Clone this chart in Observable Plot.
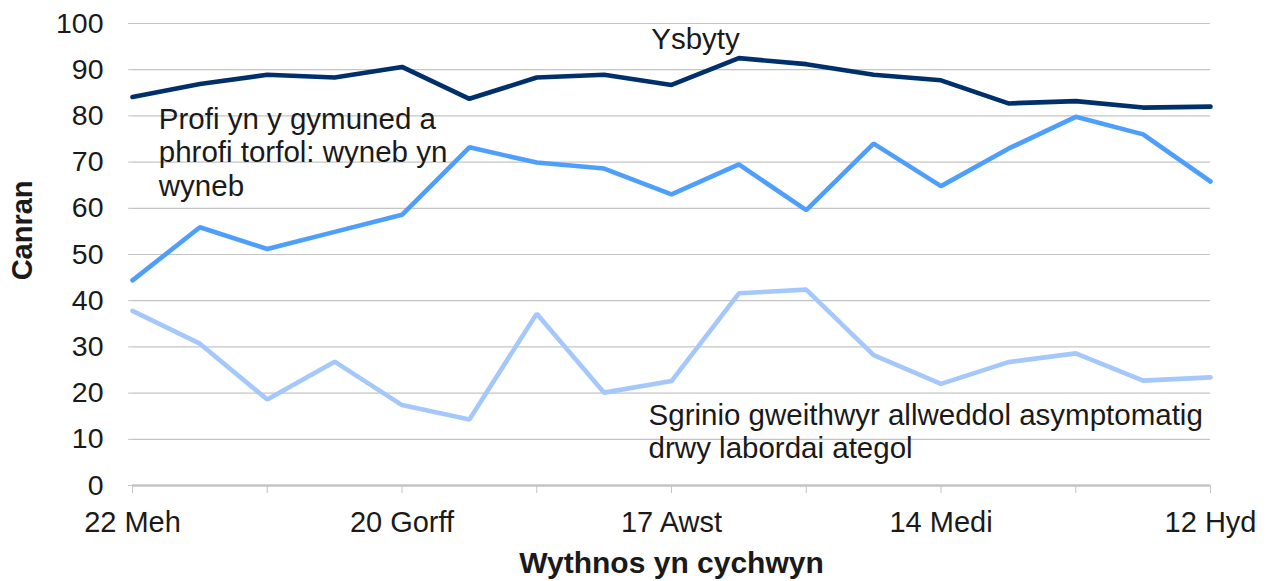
<!DOCTYPE html>
<html>
<head>
<meta charset="utf-8">
<script src="https://cdn.jsdelivr.net/npm/d3@7"></script>
<script src="https://cdn.jsdelivr.net/npm/@observablehq/plot@0.6"></script>
<style>
  html, body { margin: 0; padding: 0; background: #fff; }
  #chart svg { display: block; }
</style>
</head>
<body>
<div id="chart"></div>
<script>
// Weeks starting 22 Jun 2020 to 12 Oct 2020 (index 0..16)
const weekIndex = d3.range(17);
const tickLabels = {0: "22 Meh", 4: "20 Gorff", 8: "17 Awst", 12: "14 Medi", 16: "12 Hyd"};
const xTicks = [0, 2, 4, 6, 8, 10, 12, 14, 16];
const yTicks = [0, 10, 20, 30, 40, 50, 60, 70, 80, 90, 100];

const hospital   = [84.1, 86.9, 88.9, 88.3, 90.6, 83.7, 88.3, 88.9, 86.7, 92.5, 91.2, 88.9, 87.7, 82.7, 83.2, 81.8, 82.0];
const community  = [44.4, 55.9, 51.2, 54.9, 58.6, 73.2, 69.9, 68.6, 63.0, 69.5, 59.6, 74.0, 64.8, 72.9, 79.8, 76.0, 65.8];
const keyworkers = [37.8, 30.7, 18.6, 26.8, 17.4, 14.3, 37.2, 20.1, 22.6, 41.6, 42.4, 28.2, 22.0, 26.7, 28.6, 22.7, 23.4];

const seriesNames  = ["Ysbyty", "Profi yn y gymuned a\nphrofi torfol: wyneb yn\nwyneb", "Sgrinio gweithwyr allweddol asymptomatig\ndrwy labordai ategol"];
const seriesColors = ["#00306b", "#4e9ffc", "#a4c8fb"];
// label anchor positions in data space (week index, percentage)
const labelX = [7.70, 0.39, 7.66];
const labelY = [99.6, 82.4, 18.3];

const seriesValues = [hospital, community, keyworkers];
const rows = seriesValues.flatMap((vals, s) => vals.map((v, i) => ({week: weekIndex[i], value: v, series: s})));
const labels = seriesNames.map((name, s) => ({name, x: labelX[s], y: labelY[s]}));

const font = "'Liberation Sans', Arial, sans-serif";
const txt = "#1a1a1a";
const gridColor = "#c4c4c4";

const chart = Plot.plot({
  width: 1269,
  height: 581,
  marginLeft: 132,
  marginRight: 59,
  marginTop: 23,
  marginBottom: 96,
  style: {fontFamily: font, background: "#fff"},
  x: {type: "linear", domain: [0, 16]},
  y: {domain: [0, 100]},
  marks: [
    Plot.gridY(yTicks, {stroke: gridColor, strokeOpacity: 1, strokeWidth: 1.2}),
    Plot.axisY(yTicks, {tickSize: 4, tickPadding: 25, fontSize: 28.5, stroke: gridColor, fill: txt, label: null}),
    Plot.axisX(xTicks, {tickSize: 8, tickPadding: 18, fontSize: 29, stroke: gridColor, fill: txt, label: null,
      tickFormat: d => tickLabels[d] ?? ""}),
    Plot.ruleY([0], {stroke: gridColor, strokeWidth: 2.5}),
    ...seriesValues.map((_, s) => Plot.line(rows.filter(r => r.series === s), {
      x: "week", y: "value", stroke: seriesColors[s], strokeWidth: 4.6, strokeLinejoin: "miter"
    })),
    Plot.text(labels, {x: "x", y: "y", text: "name", textAnchor: "start", lineAnchor: "top",
      lineHeight: 1.14, fontSize: 29.5, fill: txt}),
    Plot.text(["Canran"], {frameAnchor: "left", y: [44.4], dx: -110, rotate: -90,
      fontWeight: "bold", fontSize: 29, fill: txt}),
    Plot.text(["Wythnos yn cychwyn"], {frameAnchor: "bottom", dy: 78, lineAnchor: "middle",
      fontWeight: "bold", fontSize: 30, fill: txt})
  ]
});
document.getElementById("chart").appendChild(chart);
</script>
</body>
</html>
